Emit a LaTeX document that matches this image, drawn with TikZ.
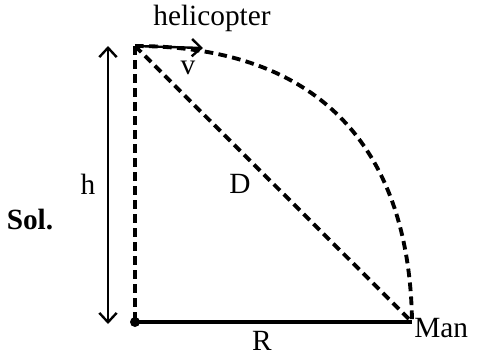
\documentclass[tikz,border=0pt]{standalone}
\usepackage{fontspec}
\setmainfont{Liberation Serif}
\usetikzlibrary{arrows.meta}
\begin{document}
\begin{tikzpicture}[x=0.75pt,y=-0.75pt,
  lbl/.style={inner sep=0pt,font=\fontsize{22}{26}\selectfont},
  dsh/.style={line width=2.9pt,dash pattern=on 6.5pt off 4pt},
  solidln/.style={line width=2.8pt},
  tip/.tip={Straight Barb[length=7pt,width=13pt,line width=1.8pt]},
  arr/.style={line width=1.8pt,-tip}]
\useasboundingbox (0,0) rectangle (477,355);
\coordinate (H) at (135,46);
\coordinate (O) at (135,322);
\coordinate (M) at (412,322);
\coordinate (V) at (203,48);
\coordinate (hT) at (108,46);
\coordinate (hB) at (108,324);
% dashed lines
\draw[dsh] (H) -- (O);
\draw[dsh] (H) -- (M);
\draw[dsh] (H) .. controls (330,46) and (410,160) .. (M);
% ground
\draw[solidln] (O) -- (M);
\fill (O) circle (5);
% velocity arrow
\draw[arr] (H) -- (V);
% h arrow
\draw[arr,tip-tip] (hT) -- (hB);
% labels
\node[lbl] (heli) at (212,18) {helicopter};
\node[lbl] (v) at (188,68) {v};
\node[lbl] (h) at (88,184) {h};
\node[lbl] (D) at (240,184) {D};
\node[lbl,font=\fontsize{22}{26}\selectfont\bfseries] (sol) at (30,220) {Sol.};
\node[lbl] (R) at (262,341) {R};
\node[lbl,anchor=west] (man) at (414,328) {Man};
\end{tikzpicture}
\end{document}
